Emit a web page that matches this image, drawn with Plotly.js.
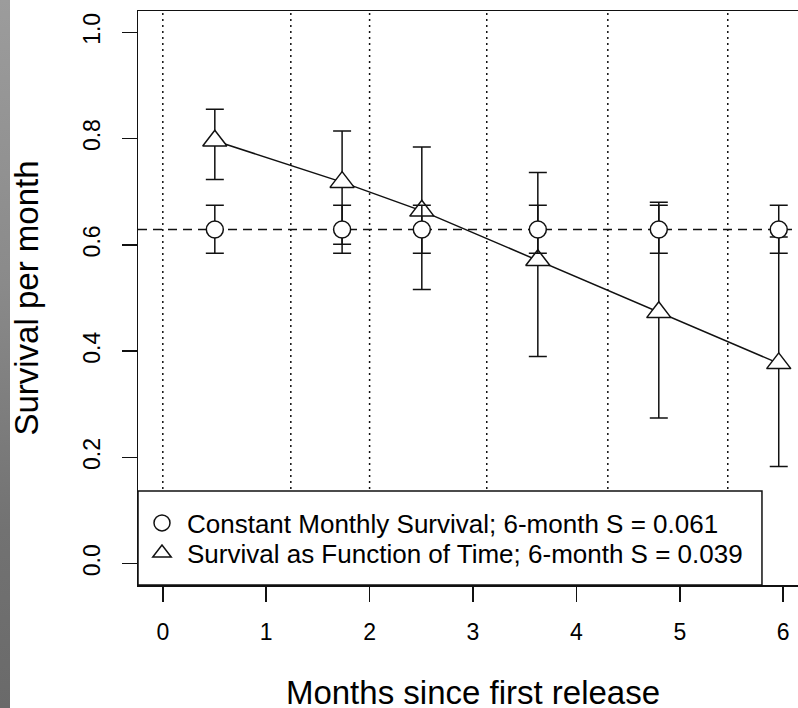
<!DOCTYPE html>
<html><head><meta charset="utf-8">
<script src="https://cdn.plot.ly/plotly-3.0.1.min.js"></script>
<style>
html,body{margin:0;padding:0;overflow:hidden;background:#fff;width:798px;height:708px}
#strip{position:absolute;left:0;top:0;width:10px;height:708px;background:linear-gradient(#9c9c9c,#8a8a8a 40%,#727272 75%,#6a6a6a);z-index:2}
#chart{position:absolute;left:0;top:0;width:830px;height:716px}
</style></head><body>
<div id="chart"></div><div id="strip"></div>
<script>
// ---- data ----
const monthDividers = [0, 1.238, 2.0, 3.133, 4.304, 5.464];
const intervalMid = [0.503, 1.734, 2.505, 3.627, 4.797, 5.957];
const constSurv = [0.629, 0.629, 0.629, 0.629, 0.629, 0.629];
const constLo = [0.584, 0.584, 0.584, 0.584, 0.584, 0.584];
const constHi = [0.6745, 0.6745, 0.6745, 0.6745, 0.6745, 0.6745];
const constLevel = 0.629;
const timeSurv = [0.796, 0.718, 0.664, 0.571, 0.473, 0.377];
const timeLo = [0.723, 0.601, 0.516, 0.390, 0.274, 0.183];
const timeHi = [0.855, 0.814, 0.784, 0.736, 0.680, 0.615];
const xTicks = [0, 1, 2, 3, 4, 5, 6];
const yTicks = [0, 0.2, 0.4, 0.6, 0.8, 1.0];
const yTickText = ['0.0', '0.2', '0.4', '0.6', '0.8', '1.0'];
const seriesNames = ['Constant Monthly Survival; 6-month S = 0.061',
                     'Survival as Function of Time; 6-month S = 0.039'];
const xTitle = 'Months since first release';
const yTitle = 'Survival per month';

// ---- build ----
const FONT = 'Liberation Sans, Arial, Helvetica, sans-serif';
const INK = '#111';
const diff = (a, b) => a.map((v, i) => v - b[i]);

const traces = [
  { x: intervalMid, y: timeSurv, mode: 'lines', showlegend: false, hoverinfo: 'skip',
    line: { color: INK, width: 1.5 } },
  { x: intervalMid, y: timeSurv, mode: 'markers', name: seriesNames[1], legend: 'legend2',
    marker: { symbol: 'triangle-up', size: 21, color: '#fff', line: { color: INK, width: 1.5 } },
    error_y: { type: 'data', symmetric: false, array: diff(timeHi, timeSurv),
               arrayminus: diff(timeSurv, timeLo), color: INK, thickness: 1.5, width: 9 } },
  { x: intervalMid, y: constSurv, mode: 'markers', name: seriesNames[0], legend: 'legend',
    marker: { symbol: 'circle', size: 17, color: '#fff', line: { color: INK, width: 1.5 } },
    error_y: { type: 'data', symmetric: false, array: diff(constHi, constSurv),
               arrayminus: diff(constSurv, constLo), color: INK, thickness: 1.5, width: 9 } }
];

const shapes = monthDividers.map(d => ({
  type: 'line', layer: 'below', xref: 'x', yref: 'paper', x0: d, x1: d, y0: 0, y1: 1,
  line: { color: INK, width: 1.5, dash: '2px,4px' }
}));
shapes.push({ type: 'line', layer: 'below', xref: 'paper', yref: 'y', x0: 0, x1: 1,
  y0: constLevel, y1: constLevel, line: { color: INK, width: 1.5, dash: '9px,6px' } });
// legend frame
shapes.push({ type: 'rect', layer: 'above', xref: 'paper', yref: 'paper',
  x0: 0, x1: 0.9313, y0: 0, y1: 0.1638, fillcolor: '#fff', line: { color: INK, width: 1.5 } });

const legendBase = { bgcolor: 'rgba(0,0,0,0)', borderwidth: 0, xanchor: 'left', yanchor: 'middle',
  font: { family: FONT, size: 26, color: '#000' }, itemwidth: 40, x: -0.0015 };

const layout = {
  width: 830, height: 716,
  margin: { l: 138, r: 22, t: 11, b: 131, pad: 0 },
  paper_bgcolor: '#fff', plot_bgcolor: '#fff',
  font: { family: FONT, color: '#000' },
  showlegend: true,
  legend: Object.assign({}, legendBase, { y: 0.108 }),
  legend2: Object.assign({}, legendBase, { y: 0.0557 }),
  xaxis: {
    range: [-0.24, 6.24], tickvals: xTicks, ticktext: xTicks.map(String),
    ticks: 'outside', ticklen: 15, tickwidth: 1.5, tickcolor: INK,
    showline: true, mirror: true, linecolor: INK, linewidth: 1.5,
    showgrid: false, zeroline: false, automargin: false,
    tickfont: { family: FONT, size: 23, color: '#000' }, ticklabelstandoff: 11,
    title: { text: xTitle, font: { family: FONT, size: 33, color: '#000' }, standoff: 37 }
  },
  yaxis: {
    range: [-0.04, 1.04], tickvals: yTicks, ticktext: yTickText, tickangle: -90,
    ticks: 'outside', ticklen: 15, tickwidth: 1.5, tickcolor: INK,
    showline: true, mirror: true, linecolor: INK, linewidth: 1.5,
    showgrid: false, zeroline: false, automargin: false,
    tickfont: { family: FONT, size: 23, color: '#000' }, ticklabelstandoff: 12,
    title: { text: yTitle, font: { family: FONT, size: 33, color: '#000' }, standoff: 30 }
  },
  shapes: shapes
};

Plotly.newPlot('chart', traces, layout, { displayModeBar: false, staticPlot: true });
</script>
</body></html>
